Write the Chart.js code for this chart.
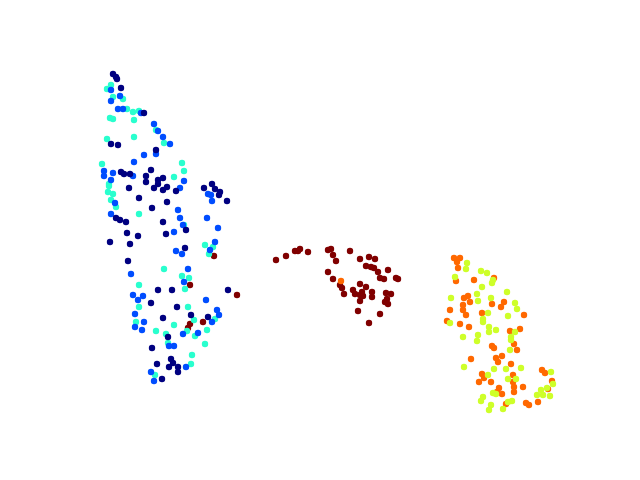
<!DOCTYPE html>
<html><head><meta charset="utf-8">
<script src="https://cdn.jsdelivr.net/npm/chart.js@4/dist/chart.umd.min.js"></script>
<style>html,body{margin:0;padding:0;background:#fff}canvas{display:block}</style>
</head><body>
<canvas id="c" width="640" height="480"></canvas>
<script>
const classNames = ["0", "1", "2", "3", "4", "5"];
const classColors = ["#000080", "#004dff", "#29ffce", "#ceff29", "#ff6800", "#800000"];

const class0 = [[113,74],[116,77],[117,79],[121,88],[144,113],[111,144],[118,145],[156,150],[151,170],[121,172],[124,174],[130,174],[146,176],[146,182],[158,180],[163,178],[158,184],[154,188],[163,190],[167,187],[176,191],[129,188],[139,198],[152,208],[167,202],[116,218],[120,220],[126,222],[127,233],[138,236],[163,222],[166,234],[186,230],[204,188],[212,184],[215,189],[220,192],[219,195],[227,201],[110,242],[130,244],[185,248],[128,261],[158,290],[172,290],[228,290],[151,303],[177,307],[191,315],[208,317],[163,318],[168,337],[152,348],[171,359],[173,363],[169,367],[157,364],[178,367],[178,372],[162,379]];

const class1 = [[111,90],[120,96],[111,101],[118,109],[123,109],[141,113],[154,124],[158,131],[163,137],[170,144],[156,154],[144,155],[134,162],[104,171],[113,173],[133,176],[104,176],[111,180],[184,181],[180,188],[115,203],[111,214],[178,210],[180,218],[183,225],[174,232],[208,194],[211,195],[212,201],[207,218],[218,228],[215,242],[210,250],[176,251],[182,254],[188,269],[131,274],[184,282],[133,295],[138,300],[143,296],[206,300],[135,314],[217,310],[219,315],[212,322],[183,334],[198,333],[144,322],[135,327],[142,330],[169,346],[174,346],[186,367],[151,372],[154,381]];

const class2 = [[111,85],[107,89],[113,97],[123,99],[127,109],[133,112],[139,111],[110,118],[113,119],[134,120],[156,130],[164,143],[107,139],[134,137],[182,163],[102,164],[184,171],[174,177],[109,184],[109,186],[108,192],[113,194],[111,200],[116,207],[139,214],[184,225],[205,245],[213,247],[209,254],[164,269],[182,276],[189,278],[185,289],[139,285],[139,307],[188,307],[194,320],[215,319],[187,331],[195,336],[207,330],[136,322],[156,331],[174,325],[166,334],[168,343],[205,344],[192,355],[191,364],[155,375]];

const class3 = [[467,263],[466,269],[455,277],[481,271],[487,273],[493,280],[492,283],[482,287],[507,292],[477,294],[478,301],[451,298],[491,298],[515,303],[517,309],[488,313],[508,316],[450,323],[483,319],[483,322],[489,327],[496,330],[515,332],[511,337],[511,340],[510,350],[489,332],[478,335],[477,341],[463,337],[464,367],[494,369],[506,369],[521,368],[488,375],[508,379],[516,379],[493,393],[496,394],[483,397],[481,401],[491,405],[489,410],[508,402],[512,401],[503,409],[537,395],[541,390],[543,395],[550,396],[551,372],[547,388],[553,384]];

const class4 = [[341,281],[454,258],[460,258],[457,262],[458,268],[456,281],[494,278],[474,280],[464,298],[468,296],[470,302],[463,305],[492,304],[504,302],[501,307],[450,310],[463,310],[466,315],[482,313],[524,315],[447,321],[460,324],[469,327],[520,329],[510,331],[514,344],[517,350],[492,346],[494,348],[502,356],[496,358],[498,362],[471,359],[511,364],[482,374],[484,378],[491,382],[479,382],[513,375],[513,382],[514,387],[514,392],[523,387],[499,388],[497,392],[502,394],[506,404],[526,403],[529,405],[538,402],[542,370],[545,373],[552,381],[548,389]];

const class5 = [[214,256],[190,285],[237,295],[203,322],[190,324],[188,328],[276,260],[286,256],[295,251],[300,249],[298,251],[308,252],[328,250],[331,249],[333,255],[336,261],[350,251],[360,259],[369,257],[375,259],[366,266],[371,267],[374,268],[378,272],[388,270],[380,278],[384,279],[396,278],[398,279],[328,272],[333,279],[340,285],[342,288],[344,294],[353,290],[355,294],[360,284],[366,287],[362,292],[360,295],[363,296],[360,301],[372,292],[372,297],[386,293],[391,294],[387,299],[388,304],[385,302],[358,311],[380,314],[369,323]];

const allClasses = [class0, class1, class2, class3, class4, class5];

const datasets = allClasses.map((pts, i) => ({
  label: classNames[i],
  data: pts.map(p => ({x: p[0], y: p[1]})),
  backgroundColor: classColors[i],
  borderWidth: 0,
  pointRadius: 3.2,
  pointHoverRadius: 3.2
}));

new Chart(document.getElementById('c'), {
  type: 'scatter',
  data: { datasets },
  options: {
    responsive: false,
    animation: false,
    layout: { padding: { left: 80, right: 64, top: 58, bottom: 53 } },
    plugins: { legend: { display: false }, tooltip: { enabled: false } },
    scales: {
      x: { display: false, min: 80, max: 576 },
      y: { display: false, min: 58, max: 427, reverse: true }
    }
  }
});
</script>
</body></html>
